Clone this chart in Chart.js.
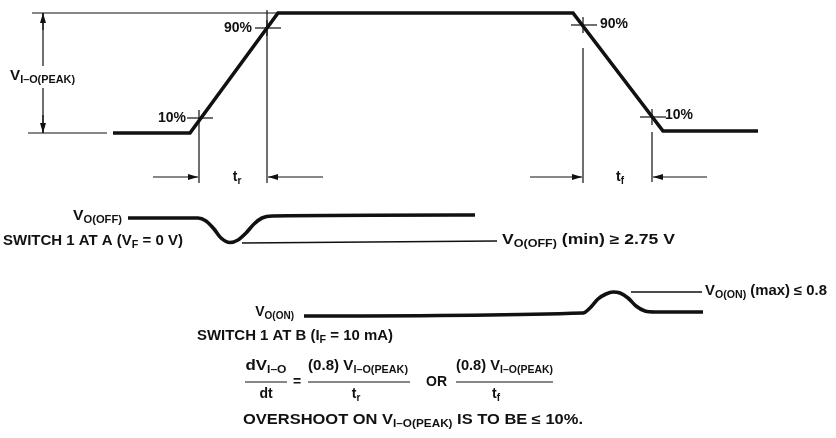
<!DOCTYPE html>
<html>
<head>
<meta charset="utf-8">
<script src="https://cdn.jsdelivr.net/npm/chart.js@4.4.1/dist/chart.umd.min.js"></script>
<style>
  html, body { margin: 0; padding: 0; background: #fff; }
  #wrap { width: 836px; height: 438px; position: relative; }
</style>
</head>
<body>
<div id="wrap"><canvas id="chart"></canvas></div>
<script>
// input pulse V(I-O) (x = time, y = plot units, down is larger)
const pulseX = [113, 190, 278, 573, 663, 758]
const pulseY = [133, 133, 13, 13, 131, 131]

// output for switch 1 at A: V_O(OFF) with its dip
const offX = [128, 198, 206, 214, 221, 230, 238, 246, 254, 262, 272, 475]
const offY = [218, 218, 221, 229, 238, 242.5, 240, 233, 224, 218, 216, 215]
const offMinX = [242, 497]
const offMinY = [243, 241]

// output for switch 1 at B: V_O(ON) with its bump
const onX = [304, 583, 590, 598, 606, 613, 620, 628, 636, 645, 655, 703]
const onY = [316, 313, 308, 299, 294, 292, 293, 298, 306, 311, 312, 312]
const onMaxX = [631, 702]
const onMaxY = [292, 292]

// level markers 10% / 90%
const markX = [199, 267, 583, 652]
const markY = [118, 28, 25, 117]

// thin guide lines [x1, y1, x2, y2]
const guides = [
  [32, 13, 278, 13],
  [28, 133, 107, 133],
  [43, 13, 43, 66],
  [43, 88, 43, 133],
  [199, 126, 199, 183],
  [267, 10, 267, 183],
  [583, 48, 583, 183],
  [652, 132, 652, 182],
  [245, 382, 287, 382],
  [308, 382, 410, 382],
  [456, 382, 553, 382]
]

// dimension arrows [fromX, fromY, toX, toY], head at "to"
const arrows = [
  [43, 30, 43, 13],
  [43, 115, 43, 133],
  [153, 177, 198, 177],
  [323, 177, 268, 177],
  [530, 177, 582, 177],
  [707, 177, 653, 177]
]

const SUB = "sub"
// w = width the label takes in the picture (text is stretched to it)
const labels = [
  { x: 10, y: 76, align: "left", w: 65, parts: [["V"], ["I\u2013O(PEAK)", SUB]] },
  { x: 252, y: 28, align: "right", parts: [["90%"]] },
  { x: 186, y: 118, align: "right", parts: [["10%"]] },
  { x: 600, y: 24, align: "left", parts: [["90%"]] },
  { x: 665, y: 115, align: "left", parts: [["10%"]] },
  { x: 237, y: 177, align: "center", parts: [["t"], ["r", SUB]] },
  { x: 620, y: 177, align: "center", parts: [["t"], ["f", SUB]] },
  { x: 122, y: 216, align: "right", w: 49, parts: [["V"], ["O(OFF)", SUB]] },
  { x: 3, y: 241, align: "left", w: 180, parts: [["SWITCH 1 AT A (V"], ["F", SUB], [" = 0 V)"]] },
  { x: 502, y: 240, align: "left", w: 173, parts: [["V"], ["O(OFF)", SUB], [" (min) \u2265 2.75 V"]] },
  { x: 294, y: 312, align: "right", parts: [["V"], ["O(ON)", SUB]] },
  { x: 197, y: 336, align: "left", w: 196, parts: [["SWITCH 1 AT B (I"], ["F", SUB], [" = 10 mA)"]] },
  { x: 705, y: 291, align: "left", w: 122, parts: [["V"], ["O(ON)", SUB], [" (max) \u2264 0.8"]] },
  { x: 266, y: 366, align: "center", w: 41, parts: [["dV"], ["I\u2013O", SUB]] },
  { x: 266, y: 394, align: "center", parts: [["dt"]] },
  { x: 297, y: 382, align: "center", parts: [["="]] },
  { x: 308, y: 366, align: "left", w: 100, parts: [["(0.8) V"], ["I\u2013O(PEAK)", SUB]] },
  { x: 356, y: 394, align: "center", parts: [["t"], ["r", SUB]] },
  { x: 426, y: 382, align: "left", parts: [["OR"]] },
  { x: 456, y: 366, align: "left", w: 97, parts: [["(0.8) V"], ["I\u2013O(PEAK)", SUB]] },
  { x: 496, y: 394, align: "center", parts: [["t"], ["f", SUB]] },
  { x: 243, y: 420, align: "left", w: 340, parts: [["OVERSHOOT ON V"], ["I\u2013O(PEAK)", SUB], [" IS TO BE \u2264 10%."]] }
]

const FAMILY = '"Liberation Sans", Arial, Helvetica, sans-serif'
const MAIN_FONT = "bold 14px " + FAMILY
const SUB_FONT = "bold 10px " + FAMILY
const INK = "#111"

function pts(xs, ys) {
  return xs.map((x, i) => ({ x: x, y: ys[i] }))
}

function wave(xs, ys, width, curved) {
  return {
    data: pts(xs, ys),
    showLine: true,
    borderColor: INK,
    borderWidth: width,
    pointRadius: 0,
    cubicInterpolationMode: curved ? "monotone" : "default",
    tension: 0,
    borderCapStyle: "butt",
    borderJoinStyle: "miter"
  }
}

const datasets = [
  wave(pulseX, pulseY, 3.6, false),
  wave(offX, offY, 3.6, true),
  wave(offMinX, offMinY, 1.4, false),
  wave(onX, onY, 3.6, true),
  wave(onMaxX, onMaxY, 1.4, false)
]
guides.forEach(g => datasets.push(wave([g[0], g[2]], [g[1], g[3]], 1.2, false)))
// horizontal and vertical ticks of the level crosses
markX.forEach((mx, i) => {
  const my = markY[i]
  datasets.push(wave([mx - 12, mx + 14], [my, my], 1.2, false))
  datasets.push(wave([mx, mx], [my - 8, my + 8], 1.2, false))
})

const annotate = {
  id: "annotate",
  afterDatasetsDraw(chart) {
    const ctx = chart.ctx
    const sx = chart.scales.x
    const sy = chart.scales.y
    ctx.save()
    ctx.fillStyle = INK
    ctx.strokeStyle = INK

    arrows.forEach(a => {
      const x1 = sx.getPixelForValue(a[0]), y1 = sy.getPixelForValue(a[1])
      const x2 = sx.getPixelForValue(a[2]), y2 = sy.getPixelForValue(a[3])
      const ang = Math.atan2(y2 - y1, x2 - x1)
      ctx.lineWidth = 1.2
      ctx.beginPath()
      ctx.moveTo(x1, y1)
      ctx.lineTo(x2, y2)
      ctx.stroke()
      ctx.beginPath()
      ctx.moveTo(x2, y2)
      ctx.lineTo(x2 - 10 * Math.cos(ang) + 3 * Math.sin(ang), y2 - 10 * Math.sin(ang) - 3 * Math.cos(ang))
      ctx.lineTo(x2 - 10 * Math.cos(ang) - 3 * Math.sin(ang), y2 - 10 * Math.sin(ang) + 3 * Math.cos(ang))
      ctx.closePath()
      ctx.fill()
    })

    ctx.textBaseline = "middle"
    ctx.textAlign = "left"
    labels.forEach(l => {
      let natural = 0
      l.parts.forEach(p => {
        ctx.font = p[1] === SUB ? SUB_FONT : MAIN_FONT
        natural += ctx.measureText(p[0]).width
      })
      const k = l.w ? l.w / natural : 1
      const total = natural * k
      let x = sx.getPixelForValue(l.x)
      const y = sy.getPixelForValue(l.y)
      if (l.align === "right") x -= total
      if (l.align === "center") x -= total / 2
      ctx.save()
      ctx.translate(x, y)
      ctx.scale(k, 1)
      let cx = 0
      l.parts.forEach(p => {
        const sub = p[1] === SUB
        ctx.font = sub ? SUB_FONT : MAIN_FONT
        ctx.fillText(p[0], cx, sub ? 4 : 0)
        cx += ctx.measureText(p[0]).width
      })
      ctx.restore()
    })
    ctx.restore()
  }
}

new Chart(document.getElementById("chart").getContext("2d"), {
  type: "scatter",
  data: { datasets: datasets },
  options: {
    responsive: true,
    maintainAspectRatio: false,
    animation: false,
    layout: { padding: 0 },
    plugins: { legend: { display: false }, tooltip: { enabled: false } },
    scales: {
      x: { type: "linear", display: false, min: 0, max: 836 },
      y: { type: "linear", display: false, min: 0, max: 438, reverse: true }
    }
  },
  plugins: [annotate]
})
</script>
</body>
</html>
